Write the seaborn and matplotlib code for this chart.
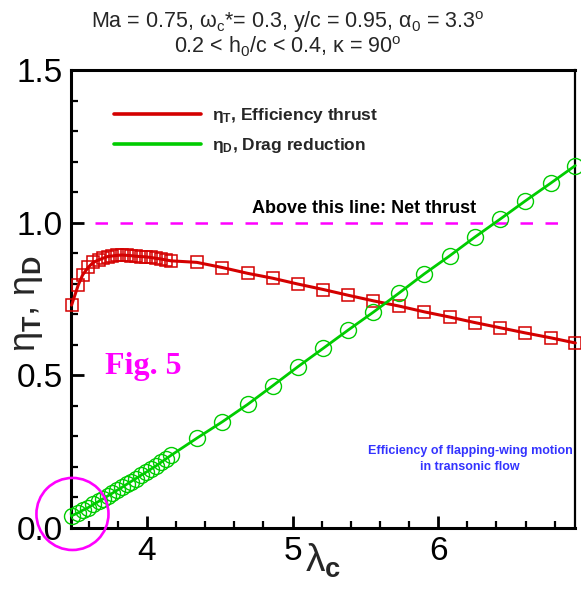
import numpy as np
import pandas as pd
import matplotlib
matplotlib.use("Agg")
import matplotlib.pyplot as plt
import seaborn as sns
from matplotlib.lines import Line2D
from matplotlib.patches import Ellipse
from matplotlib.ticker import MultipleLocator, FormatStrFormatter

# ---------------- data ----------------
lam = [3.482, 3.528, 3.558, 3.597, 3.631, 3.668, 3.700, 3.730, 3.762, 3.796,
       3.828, 3.860, 3.890, 3.924, 3.957, 3.991, 4.027, 4.064, 4.096, 4.129,
       4.165, 4.342, 4.518, 4.692, 4.864, 5.036, 5.212, 5.384, 5.555, 5.730,
       5.904, 6.078, 6.250, 6.424, 6.598, 6.772, 6.942]
eta_T = [0.730, 0.796, 0.829, 0.854, 0.870, 0.878, 0.884, 0.889, 0.891, 0.893,
         0.894, 0.893, 0.892, 0.890, 0.889, 0.888, 0.886, 0.883, 0.881, 0.878,
         0.875, 0.870, 0.853, 0.834, 0.818, 0.799, 0.781, 0.762, 0.744, 0.727,
         0.708, 0.691, 0.673, 0.656, 0.639, 0.623, 0.606]
eta_D = [0.040, 0.050, 0.058, 0.067, 0.077, 0.087, 0.096, 0.105, 0.114, 0.124,
         0.133, 0.143, 0.152, 0.162, 0.172, 0.182, 0.193, 0.204, 0.215, 0.226,
         0.238, 0.294, 0.348, 0.405, 0.466, 0.528, 0.589, 0.649, 0.707, 0.769,
         0.832, 0.891, 0.952, 1.011, 1.071, 1.129, 1.187]
net_thrust_level = 1.0
net_line_x = [3.64, 6.85]
x_ticks = [4, 5, 6]
y_ticks = [0.0, 0.5, 1.0, 1.5]

legend_labels = [r"$\eta_\mathbf{T}$, Efficiency thrust", r"$\eta_\mathbf{D}$, Drag reduction"]
title1 = r"Ma = 0.75, $\omega_c$*= 0.3, y/c = 0.95, $\alpha_0$ = 3.3$^o$"
title2 = r"0.2 < $h_0$/c < 0.4, $\kappa$ = 90$^o$"

RED = "#d40000"
GREEN = "#00cc00"
MAGENTA = "#ff00ff"
BLUE = "#3333ff"

# ---------------- style ----------------
sns.set_theme(style="white")
plt.rcParams["font.family"] = ["Liberation Sans", "DejaVu Sans"]
plt.rcParams["mathtext.fontset"] = "custom"
plt.rcParams["mathtext.rm"] = "Liberation Sans"
plt.rcParams["mathtext.it"] = "Liberation Sans:italic"
plt.rcParams["mathtext.bf"] = "Liberation Sans:bold"
plt.rcParams["mathtext.default"] = "regular"

df = pd.DataFrame({"lam": lam, "eta_T": eta_T, "eta_D": eta_D})

fig = plt.figure(figsize=(5.81, 5.93), dpi=100)
ax = fig.add_axes([71 / 581, 65 / 593, 504 / 581, 458 / 593])

sns.lineplot(data=df, x="lam", y="eta_T", ax=ax, color=RED, lw=2.2,
             marker="s", markersize=8.5, markerfacecolor="none",
             markeredgecolor=RED, markeredgewidth=1.1, estimator=None, sort=False,
             clip_on=False, zorder=3)
sns.lineplot(data=df, x="lam", y="eta_D", ax=ax, color=GREEN, lw=2.0,
             marker="o", markersize=11.5, markerfacecolor="none",
             markeredgecolor=GREEN, markeredgewidth=1.0, estimator=None, sort=False,
             clip_on=False, zorder=3)

ax.plot(net_line_x, [net_thrust_level] * 2, color=MAGENTA, lw=1.8,
        dashes=(5, 5), zorder=2)

ax.set_xlim(3.478, 6.94)
ax.set_ylim(0, 1.5)
ax.set_xticks(x_ticks)
ax.set_yticks(y_ticks)
ax.xaxis.set_minor_locator(MultipleLocator(0.2))
ax.yaxis.set_minor_locator(MultipleLocator(0.1))
ax.yaxis.set_major_formatter(FormatStrFormatter("%.1f"))
ax.tick_params(axis="both", which="major", direction="in", length=9, width=2,
               labelsize=24, color="black", labelcolor="black")
ax.tick_params(axis="both", which="minor", direction="in", length=5, width=1.6,
               color="black")
ax.tick_params(axis="x", which="both", bottom=True, top=False, pad=6)
ax.tick_params(axis="y", which="both", left=True, right=False, pad=6)
for s in ax.spines.values():
    s.set_color("black")
    s.set_linewidth(2.2)
ax.spines["right"].set_linewidth(1.6)
ax.grid(False)

ax.set_xlabel(r"$\lambda_\mathbf{c}$", fontsize=28)
ax.xaxis.set_label_coords(0.5, -0.03)
ax.set_ylabel(r"$\eta_\mathbf{T}$, $\eta_\mathbf{D}$", fontsize=26)
ax.yaxis.set_label_coords(-0.052, 0.49)

# legend
handles = [Line2D([0], [0], color=RED, lw=2.6), Line2D([0], [0], color=GREEN, lw=2.6)]
leg = ax.legend(handles, legend_labels, loc="upper left",
                bbox_to_anchor=(0.055, 0.955), frameon=False,
                handlelength=5.0, handletextpad=0.6, labelspacing=0.6,
                prop={"weight": "bold", "size": 12.5})

# annotations
ax.text(5.488, 1.02, "Above this line: Net thrust", fontsize=13, fontweight="bold",
        ha="center", va="bottom", color="black")
ax.text(3.71, 0.504, "Fig. 5", fontsize=23, fontweight="bold", color=MAGENTA,
        family=["Liberation Serif", "DejaVu Serif"], ha="left", va="baseline")
ax.text(6.22, 0.226, "Efficiency of flapping-wing motion\nin transonic flow",
        fontsize=9.0, fontweight="bold", color=BLUE, ha="center", va="center",
        linespacing=1.45)

circ = Ellipse((3.488, 0.046), width=0.495, height=0.236, fill=False,
               edgecolor=MAGENTA, lw=1.9, clip_on=False, zorder=4)
ax.add_patch(circ)

fig.text(288 / 581, 1 - 22 / 593, title1, fontsize=15.5, ha="center", va="center")
fig.text(288 / 581, 1 - 47 / 593, title2, fontsize=15.5, ha="center", va="center")

fig.savefig("out.png", dpi=100)
